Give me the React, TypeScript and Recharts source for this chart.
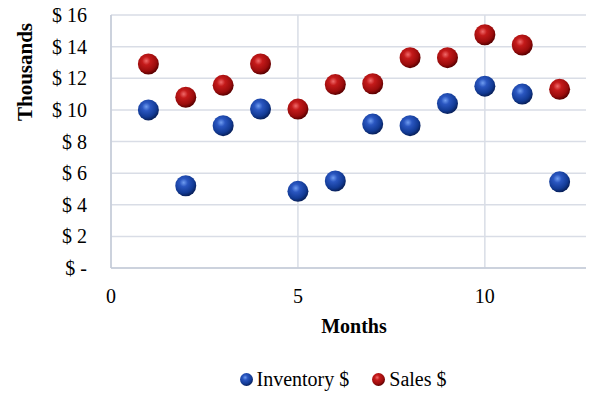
import React from 'react';
import { ScatterChart, Scatter, XAxis, YAxis, CartesianGrid, Legend } from 'recharts';

const months = [1, 2, 3, 4, 5, 6, 7, 8, 9, 10, 11, 12];
const inventory = [10.0, 5.2, 9.0, 10.05, 4.85, 5.5, 9.1, 9.0, 10.4, 11.5, 11.0, 5.45];
const sales = [12.9, 10.8, 11.55, 12.9, 10.05, 11.6, 11.65, 13.3, 13.3, 14.75, 14.1, 11.3];
const xTicks = [0, 5, 10];
const yTicks = [0, 2, 4, 6, 8, 10, 12, 14, 16];

const inventoryData = months.map((m, i) => ({ month: m, value: inventory[i] }));
const salesData = months.map((m, i) => ({ month: m, value: sales[i] }));

const FONT = '"Liberation Serif", "Times New Roman", serif';
const GRID = '#d9dde6';

const fmtDollar = (v: number) => (v === 0 ? '$ -' : `$ ${v}`);

function Sphere(props: any) {
    const { cx, cy, gradient } = props;
    if (cx == null || cy == null) return null;
    return <circle cx={cx} cy={cy} r={10.5} fill={`url(#${gradient})`} />;
}

function YTick({ x, y, payload }: any) {
    return (
        <text x={x} y={y} textAnchor="end" dominantBaseline="central" fontFamily={FONT} fontSize={20} fill="#000">
            {fmtDollar(payload.value)}
        </text>
    );
}

function SphereLegend({ payload }: any) {
    return (
        <div style={{ display: 'flex', justifyContent: 'center', paddingLeft: 80, paddingTop: 4, fontFamily: FONT, fontSize: 20, color: '#000' }}>
            {(payload || []).map((item: any) => (
                <div key={item.value} style={{ display: 'flex', alignItems: 'center', margin: '0 11px' }}>
                    <svg width={15} height={15} style={{ marginRight: 3 }}>
                        <circle cx={7.5} cy={7.5} r={6.5} fill={item.value === 'Inventory $' ? 'url(#blueBall)' : 'url(#redBall)'} />
                    </svg>
                    <span>{item.value}</span>
                </div>
            ))}
        </div>
    );
}

function ThousandsLabel({ viewBox }: any) {
    const x = viewBox.x + 17;
    const y = viewBox.y + 57;
    return (
        <text x={x} y={y} transform={`rotate(-90, ${x}, ${y})`} textAnchor="middle" dominantBaseline="central"
            fontFamily={FONT} fontSize={21} fontWeight="bold" fill="#000">
            Thousands
        </text>
    );
}

export default function App() {
    return (
        <div style={{ width: 594, height: 394, margin: '-8px 0 0 -8px', overflow: 'hidden', background: '#fff' }}>
            <ScatterChart width={608} height={394} margin={{ top: 15, right: 11, left: 8, bottom: 0 }}>
                <defs>
                    <radialGradient id="blueBall" cx="40%" cy="35%" r="65%">
                        <stop offset="0%" stopColor="#6f9cf0" />
                        <stop offset="30%" stopColor="#2a56c0" />
                        <stop offset="75%" stopColor="#123a94" />
                        <stop offset="100%" stopColor="#08205a" />
                    </radialGradient>
                    <radialGradient id="redBall" cx="40%" cy="35%" r="65%">
                        <stop offset="0%" stopColor="#f06a6a" />
                        <stop offset="30%" stopColor="#c41a1a" />
                        <stop offset="75%" stopColor="#9a0c0c" />
                        <stop offset="100%" stopColor="#5a0000" />
                    </radialGradient>
                </defs>
                <CartesianGrid stroke={GRID} strokeWidth={1.5} />
                <XAxis
                    type="number"
                    dataKey="month"
                    domain={[0, 13]}
                    ticks={xTicks}
                    allowDataOverflow
                    height={96}
                    tickSize={0}
                    tickMargin={21}
                    axisLine={{ stroke: '#c5cbd8', strokeWidth: 1.5 }}
                    tick={{ fill: '#000', fontSize: 20, fontFamily: FONT }}
                    label={{ value: 'Months', position: 'insideBottom', offset: 31, fill: '#000', fontSize: 20, fontWeight: 'bold', fontFamily: FONT }}
                />
                <YAxis
                    type="number"
                    dataKey="value"
                    domain={[0, 16]}
                    ticks={yTicks}
                    interval={0}
                    width={103}
                    tickSize={0}
                    tickMargin={24}
                    axisLine={{ stroke: '#c5cbd8', strokeWidth: 1.5 }}
                    tick={<YTick />}
                    label={<ThousandsLabel />}
                />
                <Legend verticalAlign="bottom" height={30} content={<SphereLegend />} />
                <Scatter name="Inventory $" data={inventoryData} fill="#1a3fa0" shape={<Sphere gradient="blueBall" />} isAnimationActive={false} />
                <Scatter name="Sales $" data={salesData} fill="#b01010" shape={<Sphere gradient="redBall" />} isAnimationActive={false} />
            </ScatterChart>
        </div>
    );
}
